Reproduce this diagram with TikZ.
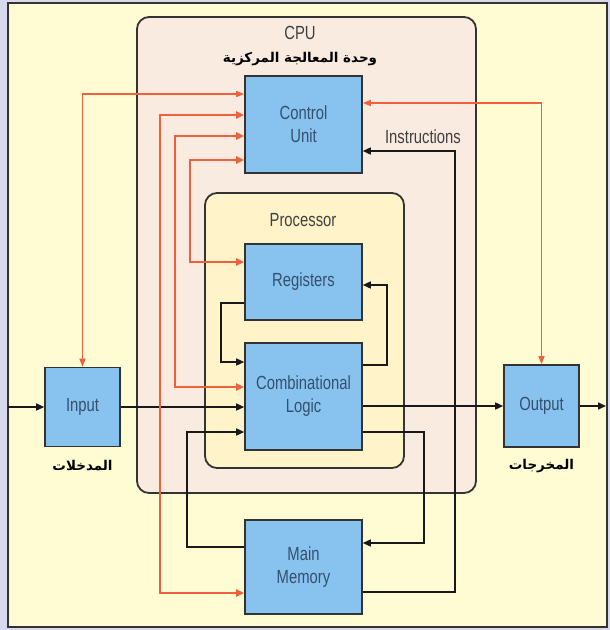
\documentclass[tikz,border=0pt]{standalone}
\usepackage{fontspec}
\setmainfont{Liberation Sans}[FakeStretch=0.78]
\newfontfamily\arabicfont[Script=Arabic]{DejaVu Sans}
\TeXXeTstate=1
\usetikzlibrary{arrows.meta}
\definecolor{backlav}{HTML}{D9D9EE}
\definecolor{panelyel}{HTML}{FFFBD3}
\definecolor{cpupink}{HTML}{FAEBE1}
\definecolor{procyel}{HTML}{FFF3C9}
\definecolor{unitblue}{HTML}{88C2EE}
\definecolor{ctlred}{HTML}{F0603C}
\definecolor{textblue}{HTML}{34506F}
\begin{document}
\begin{tikzpicture}[x=1pt,y=-1pt,
				every node/.style={font=\fontsize{19}{23}\selectfont,text=black!75},
				unit/.style={draw=black!80,line width=1.6pt,fill=unitblue,text=textblue,align=center,inner sep=0pt},
				frame/.style={draw=black!80,line width=1.8pt,rounded corners=12pt},
				arlabel/.style={font=\arabicfont\bfseries\fontsize{13.5}{15}\selectfont,text=black},
				flow/.style={draw=black!90,line width=1.5pt,-{Triangle[length=8pt,width=7pt]}},
				ctl/.style={draw=ctlred,line width=2pt,{Triangle[length=8pt,width=7pt]}-{Triangle[length=8pt,width=7pt]}},
				io/.style={draw=ctlred,line width=1.2pt,{Triangle[length=8pt,width=6pt]}-{Triangle[length=8pt,width=6pt]}}]
\useasboundingbox (0,0) rectangle (610,630);
% background and panel
\fill[backlav] (0,0) rectangle (610,630);
\draw[fill=panelyel,draw=black!80,line width=1.5pt] (8,3) rectangle (607,627);
% containers
\draw[frame,fill=cpupink] (137,17) rectangle (476,493);
\draw[frame,fill=procyel] (205,193) rectangle (404,468);
\node (cpu) at (300,33) {CPU};
\node[arlabel] (cpuar) at (300,59) {\beginR وحدة المعالجة المركزية\endR};
\node (proc) at (303,220) {Processor};
% units
\node[unit,minimum width=117pt,minimum height=97pt] (cu) at (303.5,124.5) {Control\\Unit};
\node[unit,minimum width=117pt,minimum height=76pt] (reg) at (303.5,282) {Registers};
\node[unit,minimum width=117pt,minimum height=107pt] (cl) at (303.5,396.5) {Combinational\\Logic};
\node[unit,minimum width=117pt,minimum height=94pt] (mm) at (303.5,567) {Main\\Memory};
\node[unit,minimum width=75pt,minimum height=79pt] (in) at (82.5,407) {Input};
\node[unit,minimum width=75pt,minimum height=82pt] (out) at (541.5,406) {Output};
\node[arlabel] (inar) at (82.5,466) {\beginR المدخلات\endR};
\node[arlabel] (outar) at (541.5,466) {\beginR المخرجات\endR};
\node (instr) at (423,137) {Instructions};
\coordinate (src) at (8,407);
\coordinate (sink) at (606,406);
% data paths
\draw[flow] (src) -- (in);
\draw[flow] (in) -- (cl.west |- in);
\draw[flow] (cl.east |- out) -- (out);
\draw[flow] (out) -- (sink);
\draw[flow] (reg.west |- 0,303) -| (221,362) -- (cl.west |- 0,362);
\draw[flow] (cl.east |- 0,365) -| (387,285) -- (reg.east |- 0,285);
\draw[flow] (cl.east |- 0,432) -| (424,543) -- (mm.east |- 0,543);
\draw[flow] (mm.west |- 0,547) -| (187,432) -- (cl.west |- 0,432);
\draw[flow] (mm.east |- 0,592) -| (455,151) -- (cu.east |- 0,151);
% control lines
\draw[io] (in.north) |- (cu.west |- 0,94);
\draw[io] (cu.east |- 0,103) -| (out.north);
\draw[ctl] (cu.west |- 0,115) -| (160,593) -- (mm.west |- 0,593);
\draw[ctl] (cu.west |- 0,136) -| (175,387) -- (cl.west |- 0,387);
\draw[ctl] (cu.west |- 0,160) -| (190,262) -- (reg.west |- 0,262);
\end{tikzpicture}
\end{document}
